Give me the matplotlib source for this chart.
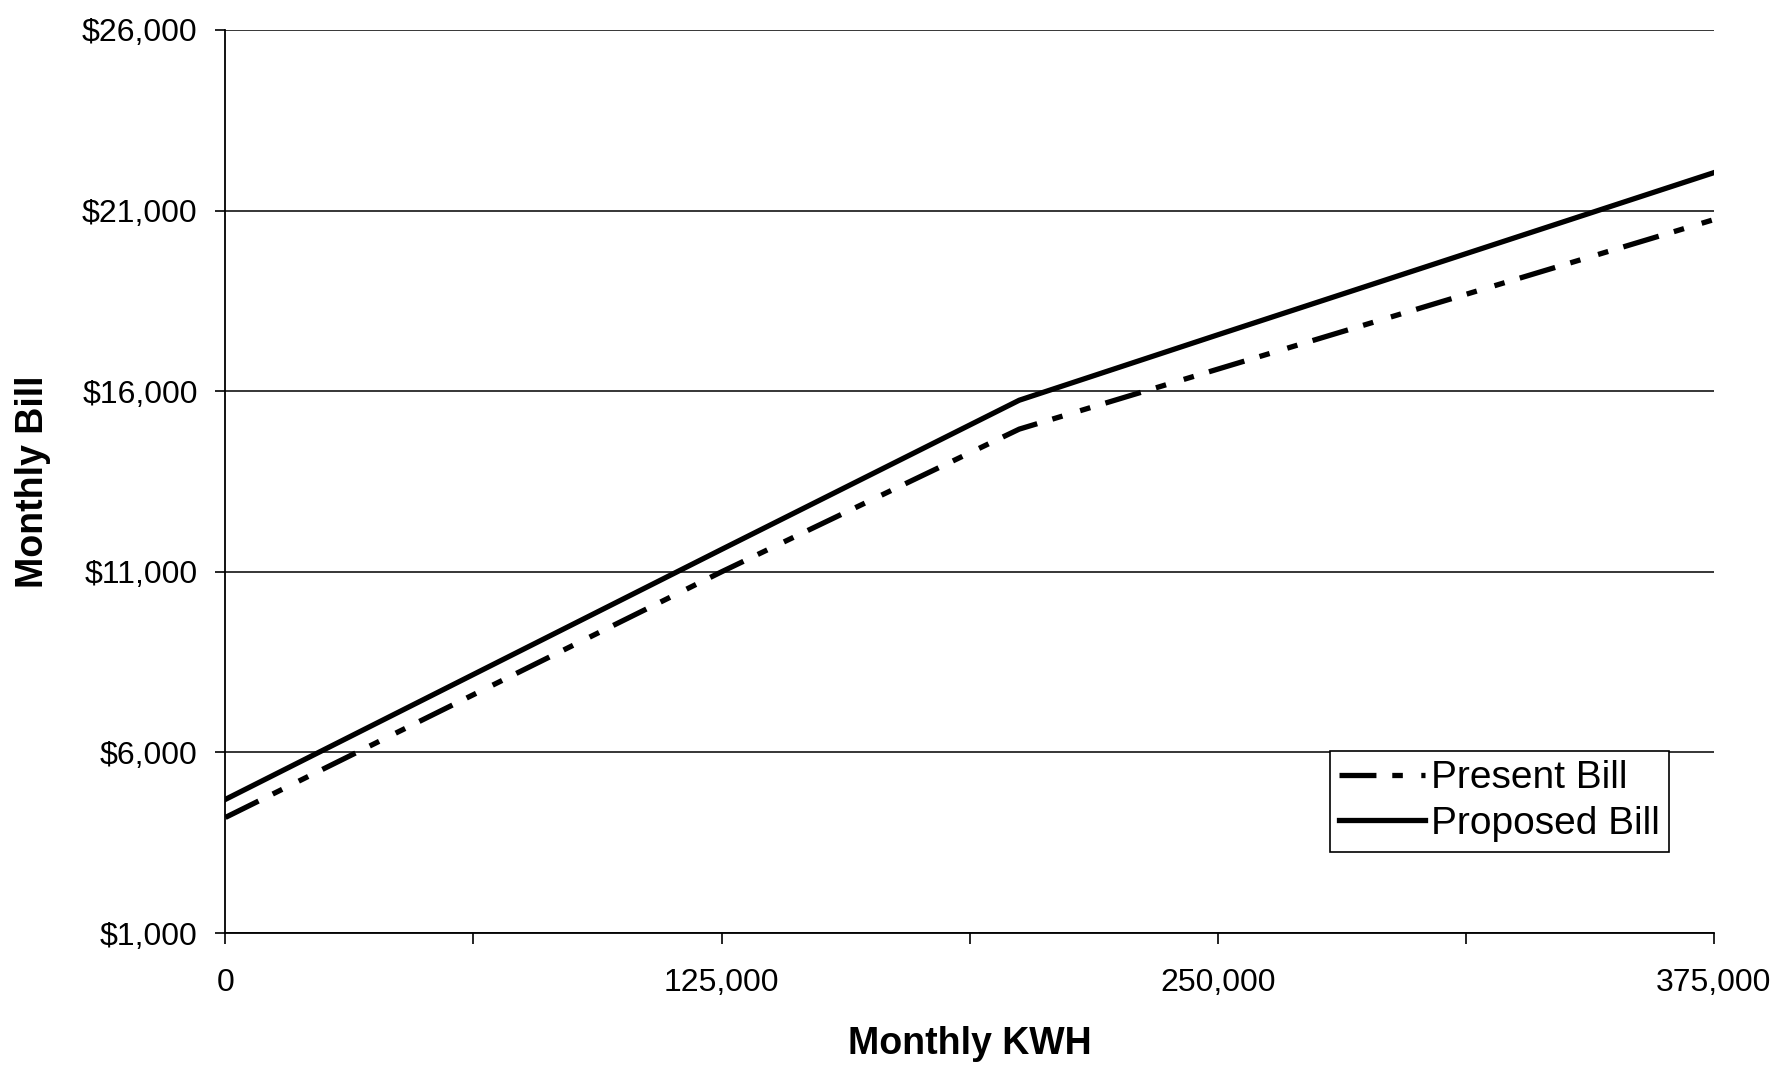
import numpy as np
import matplotlib
matplotlib.use("Agg")
import matplotlib.pyplot as plt
from matplotlib.ticker import FuncFormatter, MultipleLocator

# values (kWh, $)
kwh = [0, 125000, 200000, 250000, 375000]
present_bill = [4200, 11000, 14950, 16610, 20750]
proposed_bill = [4700, 11620, 15750, 17560, 22050]

y_ticks = [1000, 6000, 11000, 16000, 21000, 26000]
x_labels = [0, 125000, 250000, 375000]

plt.rcParams['font.family'] = ['Liberation Sans', 'DejaVu Sans']

fig = plt.figure(figsize=(17.89, 10.70), dpi=100)
ax = fig.add_axes([0.126, 0.128, 0.832, 0.844])

#gridlines first so the lines sit on top
for v in y_ticks:
    ax.axhline(v, color='black', lw=1.1, zorder=1)

ax.plot(kwh, present_bill, color='black', lw=3.8, label='Present Bill',
        dashes=(7, 3, 2, 3.5, 2, 3), zorder=3)
ax.plot(kwh, proposed_bill, color='black', lw=3.8, label='Proposed Bill',
        zorder=3)

ax.set_xlim(0, 375000)
ax.set_ylim(1000, 26000)
ax.set_yticks(y_ticks)
ax.yaxis.set_major_formatter(FuncFormatter(lambda v, p: f"${int(v):,}"))
ax.xaxis.set_major_locator(MultipleLocator(62500))
ax.xaxis.set_major_formatter(FuncFormatter(
    lambda v, p: f"{int(v):,}" if int(v) in x_labels else ""))

for s in ['top', 'right']:
    ax.spines[s].set_visible(False)
for s in ['left', 'bottom']:
    ax.spines[s].set_linewidth(1.3)

ax.tick_params(axis='y', direction='out', length=7, width=1.2, pad=13,
               labelsize=23)
ax.tick_params(axis='x', direction='out', length=8, width=1.2, pad=17,
               labelsize=23)

ax.set_xlabel('Monthly KWH', fontsize=27, fontweight='bold', labelpad=20)
ax.set_ylabel('Monthly Bill', fontsize=27, fontweight='bold', labelpad=22)

leg = ax.legend(loc='lower right', bbox_to_anchor=(0.97, 0.09), fontsize=28,
                frameon=True, fancybox=False, edgecolor='black',
                framealpha=1, handlelength=2.2, handletextpad=0.15,
                borderpad=0.25, labelspacing=0.25, borderaxespad=0)
leg.get_frame().set_linewidth(1.2)

fig.savefig('out.png', dpi=100)
